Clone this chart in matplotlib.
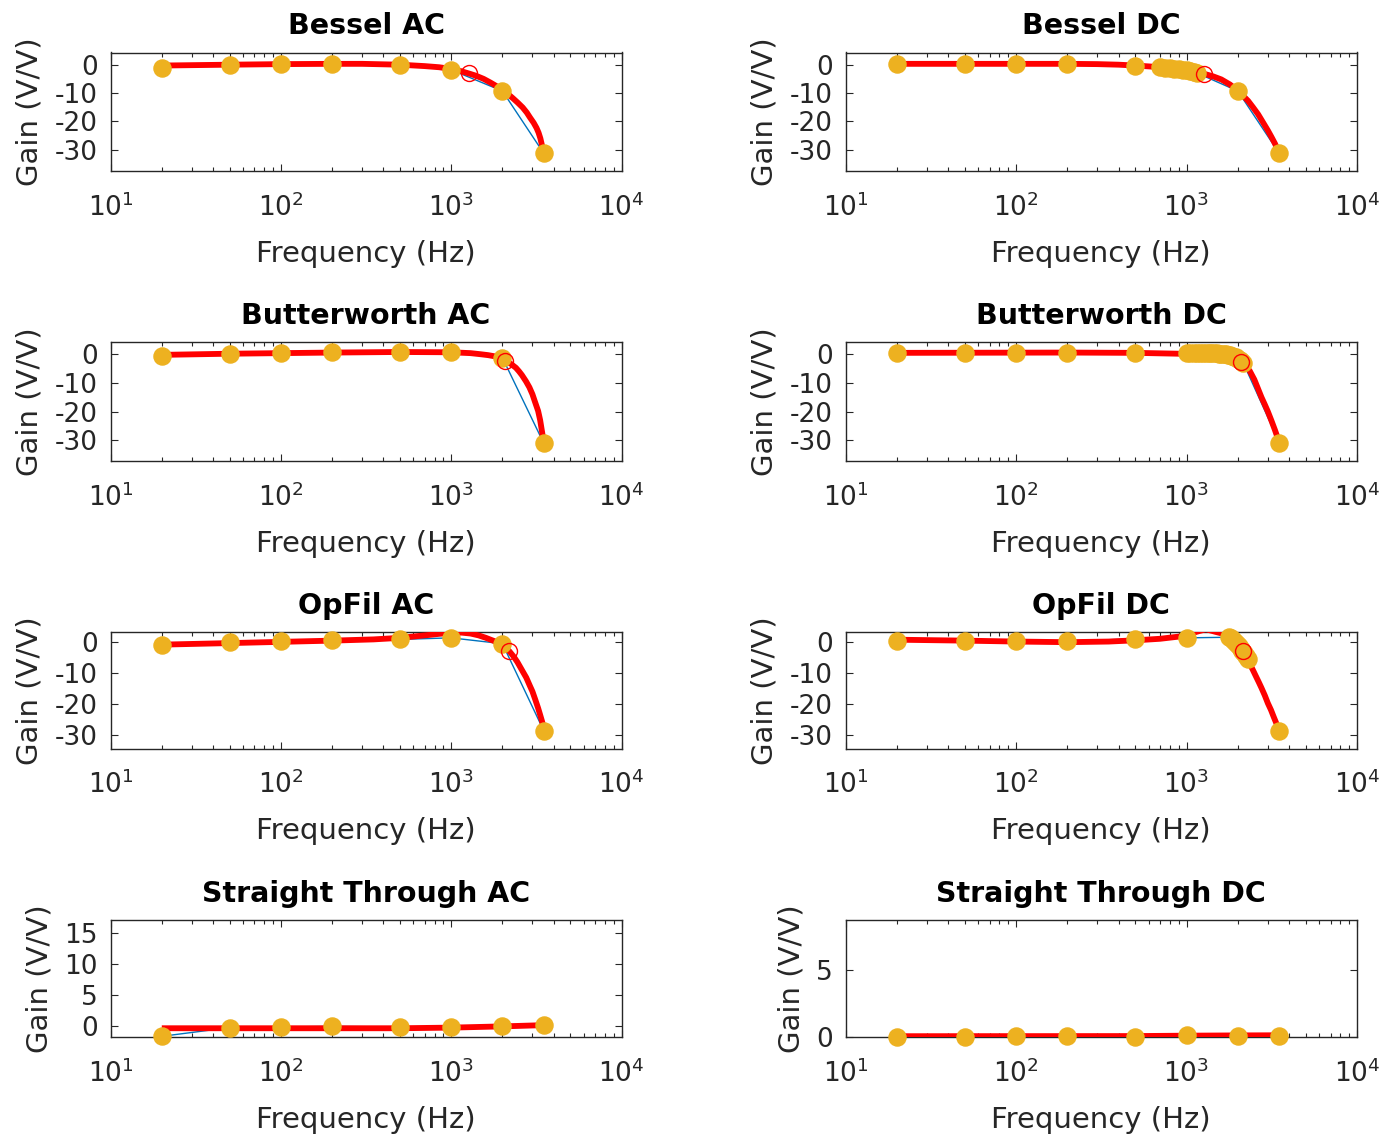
import matplotlib
matplotlib.use("Agg")
import matplotlib.pyplot as plt
from matplotlib.ticker import LogLocator, NullFormatter, FixedLocator

plt.rcParams['font.family'] = ['DejaVu Sans']
plt.rcParams['axes.unicode_minus'] = False

# ---------------- data ----------------
titles = ["Bessel AC", "Bessel DC", "Butterworth AC", "Butterworth DC",
          "OpFil AC", "OpFil DC", "Straight Through AC", "Straight Through DC"]

freq_std = [20, 50, 100, 200, 500, 1000, 2000, 3500]

# Bessel AC
bessel_ac_f = freq_std
bessel_ac_g = [-1.1, 0.0, 0.4, 0.4, 0.0, -1.8, -9.3, -31.3]
bessel_ac_fit_f = [20, 50, 100, 200, 300, 500, 700, 850, 1000, 1130, 1270, 1400, 1550, 1700, 1850, 2000,
                   2150, 2300, 2460, 2630, 2780, 2900, 3050, 3170, 3260, 3340, 3400, 3450, 3500]
bessel_ac_fit_g = [-0.3, 0.0, 0.2, 0.3, 0.3, 0.0, -0.5, -0.9, -1.5, -2.2, -3.1, -3.9, -5.0, -6.3, -7.6, -9.0,
                   -10.3, -11.8, -13.4, -15.1, -16.9, -18.6, -20.5, -22.3, -24.0, -26.0, -28.0, -29.6, -31.0]
bessel_ac_cut = (1270, -3.1)

# Bessel DC
bessel_dc_f = [20, 50, 100, 200, 500, 700, 750, 800, 850, 900, 950, 1000, 1050, 1100, 1150, 2000, 3500]
bessel_dc_g = [0.4, 0.4, 0.4, 0.4, -0.6, -0.9, -1.0, -1.2, -1.4, -1.6, -1.8, -2.0, -2.3, -2.6, -2.9, -9.3, -31.3]
bessel_dc_fit_f = [20, 100, 200, 300, 400, 500, 600, 700, 850, 1000, 1130, 1265, 1430, 1600, 1800, 2000,
                   2150, 2300, 2460, 2630, 2800, 3000, 3150, 3300, 3400, 3500]
bessel_dc_fit_g = [0.3, 0.3, 0.3, 0.2, 0.0, -0.3, -0.6, -0.9, -1.4, -1.9, -2.5, -3.2, -4.1, -5.2, -7.0, -9.2,
                   -11.0, -12.8, -15.1, -17.5, -20.2, -23.2, -25.5, -27.8, -29.5, -31.2]
bessel_dc_cut = (1265, -3.2)

# Butterworth AC
butter_ac_f = freq_std
butter_ac_g = [-0.8, 0.1, 0.5, 0.6, 0.6, 0.6, -1.3, -31.1]
butter_ac_fit_f = [20, 50, 100, 200, 500, 1000, 1300, 1500, 1650, 1800, 1900, 2000, 2080, 2160, 2250, 2400,
                   2500, 2600, 2750, 2880, 3000, 3100, 3240, 3330, 3400, 3460, 3500]
butter_ac_fit_g = [-0.3, 0.1, 0.3, 0.5, 0.7, 0.6, 0.3, -0.1, -0.4, -0.8, -1.2, -1.6, -2.3, -2.9, -3.5, -4.8,
                   -6.0, -7.3, -9.5, -11.6, -14.0, -16.5, -19.8, -23.0, -26.3, -29.0, -30.8]
butter_ac_cut = (2080, -2.5)

# Butterworth DC
butter_dc_f = [20, 50, 100, 200, 500, 1000, 1050, 1100, 1150, 1200, 1250, 1300, 1350, 1400, 1450,
               1500, 1550, 1600, 1650, 1700, 1750, 1800, 1850, 1900, 1950, 2000, 2050, 2100, 2150, 3500]
butter_dc_g = [0.4, 0.4, 0.4, 0.4, 0.3, 0.2, 0.2, 0.2, 0.2, 0.2, 0.2, 0.2, 0.2, 0.2, 0.2,
               0.2, 0.1, 0.1, 0.0, -0.1, -0.2, -0.4, -0.6, -0.9, -1.2, -1.6, -2.0, -2.5, -3.0, -30.8]
butter_dc_fit_f = [20, 200, 500, 900, 1000, 1500, 1700, 1800, 1900, 2000, 2090, 2200, 2350, 2500, 2620,
                   2750, 2880, 3000, 3150, 3300, 3400, 3500]
butter_dc_fit_g = [0.4, 0.5, 0.4, 0.1, 0.2, 0.2, 0.0, -0.3, -0.8, -1.5, -2.6, -4.0, -5.9, -8.9, -11.9,
                   -15.0, -17.6, -20.0, -23.2, -26.4, -28.6, -30.8]
butter_dc_cut = (2090, -2.65)

# OpFil AC
opfil_ac_f = freq_std
opfil_ac_g = [-0.9, 0.2, 0.3, 0.6, 0.9, 1.4, -0.5, -28.8]
opfil_ac_fit_f = [20, 50, 100, 200, 350, 500, 700, 850, 1000, 1150, 1300, 1450, 1600, 1800, 2000, 2100,
                  2200, 2330, 2450, 2600, 2760, 2900, 3000, 3120, 3240, 3330, 3400, 3470, 3530]
opfil_ac_fit_g = [-0.8, -0.3, 0.1, 0.5, 0.9, 1.4, 2.2, 2.7, 3.0, 3.1, 2.8, 2.2, 1.4, 0.3, -1.1, -2.0,
                  -3.0, -4.7, -6.5, -9.0, -11.5, -14.2, -16.0, -18.7, -21.4, -23.6, -25.3, -27.0, -28.4]
opfil_ac_cut = (2200, -3.0)

# OpFil DC
opfil_dc_f = [20, 50, 100, 200, 500, 1000, 1780, 1830, 1880, 1930, 1980, 2030, 2080, 2130, 2180, 2230, 2280, 3500]
opfil_dc_g = [0.3, 0.3, 0.3, 0.3, 1.1, 1.4, 1.6, 1.2, 0.6, 0.0, -0.7, -1.4, -2.1, -2.8, -3.6, -4.4, -5.3, -28.8]
opfil_dc_fit_f = [20, 50, 100, 200, 350, 500, 700, 900, 1000, 1135, 1300, 1490, 1620, 1750, 1850, 1950, 2050,
                  2150, 2250, 2350, 2450, 2550, 2650, 2750, 2880, 3000, 3130, 3250, 3380, 3500]
opfil_dc_fit_g = [0.8, 0.5, 0.2, 0.0, 0.2, 0.6, 1.1, 1.8, 2.2, 3.3, 4.2, 3.3, 2.8, 2.2, 1.4, 0.2, -1.2,
                  -2.8, -4.8, -7.0, -9.0, -11.0, -12.9, -14.8, -17.3, -19.8, -22.0, -24.3, -26.6, -28.8]
opfil_dc_cut = (2140, -2.9)

# Straight Through AC
straight_ac_f = freq_std
straight_ac_g = [-1.6, -0.2, -0.1, 0.0, -0.1, -0.1, 0.05, 0.15]
straight_ac_fit_f = [20, 100, 500, 1000, 2000, 3500]
straight_ac_fit_g = [-0.3, -0.3, -0.3, -0.2, 0.0, 0.2]

# Straight Through DC
straight_dc_f = freq_std
straight_dc_g = [0.0, -0.02, 0.06, 0.06, -0.02, 0.15, 0.06, 0.06]
straight_dc_fit_f = [20, 500, 1000, 2000, 3500]
straight_dc_fit_g = [0.03, 0.04, 0.07, 0.09, 0.1]

panels = [
    (bessel_ac_f, bessel_ac_g, bessel_ac_fit_f, bessel_ac_fit_g, bessel_ac_cut),
    (bessel_dc_f, bessel_dc_g, bessel_dc_fit_f, bessel_dc_fit_g, bessel_dc_cut),
    (butter_ac_f, butter_ac_g, butter_ac_fit_f, butter_ac_fit_g, butter_ac_cut),
    (butter_dc_f, butter_dc_g, butter_dc_fit_f, butter_dc_fit_g, butter_dc_cut),
    (opfil_ac_f, opfil_ac_g, opfil_ac_fit_f, opfil_ac_fit_g, opfil_ac_cut),
    (opfil_dc_f, opfil_dc_g, opfil_dc_fit_f, opfil_dc_fit_g, opfil_dc_cut),
    (straight_ac_f, straight_ac_g, straight_ac_fit_f, straight_ac_fit_g, None),
    (straight_dc_f, straight_dc_g, straight_dc_fit_f, straight_dc_fit_g, None),
]

ylims = [(-37.5, 4.3), (-37.5, 4.3), (-37.2, 4.0), (-37.2, 4.0),
         (-34.5, 3.3), (-34.5, 3.3), (-1.71, 17.14), (-0.03, 8.8)]
yticks = [[-30, -20, -10, 0]] * 6 + [[0, 5, 10, 15], [0, 5]]

# ---------------- layout ----------------
W, H = 1392, 1136
fig = plt.figure(figsize=(W / 100, H / 100), dpi=100)
col_x = [(110.5, 621.5), (845.5, 1357.0)]
row_y = [(52.5, 171.0), (342.5, 461.0), (632.0, 748.5), (920.0, 1037.0)]

AXC = (0.15, 0.15, 0.15)
BLUE = '#0072BD'
YEL = '#EDB120'

for i, (f, g, ff, fg, cut) in enumerate(panels):
    r, c = divmod(i, 2)
    x0, x1 = col_x[c]
    y0, y1 = row_y[r]
    ax = fig.add_axes([x0 / W, 1 - y1 / H, (x1 - x0) / W, (y1 - y0) / H])
    ax.set_xscale('log')
    ax.plot(f, g, color=BLUE, lw=1.0, zorder=2)
    ax.plot(ff, fg, color='red', lw=4.2, zorder=3, solid_capstyle='butt', solid_joinstyle='round')
    ax.plot(f, g, ls='none', marker='o', ms=12.3, mfc=YEL, mec=YEL, zorder=4, clip_on=False)
    if cut is not None:
        ax.plot([cut[0]], [cut[1]], ls='none', marker='o', ms=11.5, mfc='none',
                mec='red', mew=1.0, zorder=5)
    ax.set_xlim(10, 10000)
    ax.set_ylim(*ylims[i])
    ax.yaxis.set_major_locator(FixedLocator(yticks[i]))
    ax.xaxis.set_major_locator(LogLocator(base=10, numticks=10))
    ax.xaxis.set_minor_locator(LogLocator(base=10, subs=range(2, 10), numticks=20))
    ax.xaxis.set_minor_formatter(NullFormatter())
    ax.tick_params(which='both', direction='in', top=True, right=True, colors=AXC,
                   width=0.8)
    ax.tick_params(which='major', length=5)
    ax.tick_params(which='minor', length=3)
    ax.tick_params(axis='x', which='major', labelsize=19, pad=16)
    ax.tick_params(axis='y', which='major', labelsize=19, pad=9)
    for sp in ax.spines.values():
        sp.set_color(AXC)
        sp.set_linewidth(1.0)
    ax.set_title(titles[i], fontsize=20.5, fontweight='bold', pad=13)
    ax.set_xlabel('Frequency (Hz)', fontsize=21, color=AXC, labelpad=13)
    ax.set_ylabel('Gain (V/V)', fontsize=21, color=AXC, labelpad=8)

fig.savefig('out.png', dpi=100)
